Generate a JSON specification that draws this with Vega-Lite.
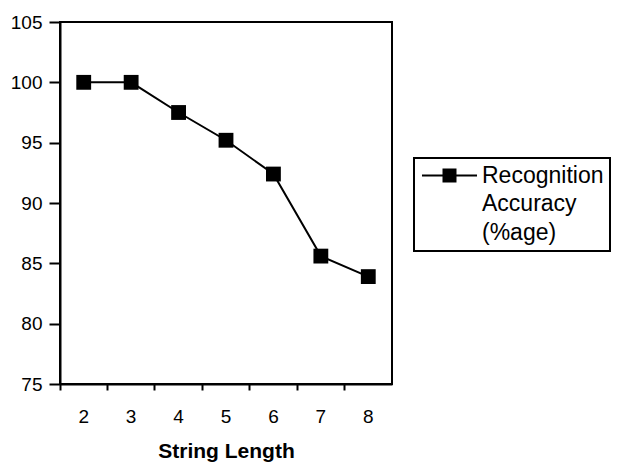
{
  "$schema": "https://vega.github.io/schema/vega-lite/v6.json",
  "autosize": {"type": "none"},
  "width": 332,
  "height": 362,
  "padding": {"left": 60, "top": 22, "right": 226, "bottom": 78},
  "background": "white",
  "config": {
    "font": "Liberation Sans",
    "view": {"stroke": "black", "strokeWidth": 2},
    "legend": {"strokeWidth": 2},
    "axis": {"grid": false, "domainColor": "black", "domainWidth": 2, "tickColor": "black", "tickWidth": 2, "labelColor": "black", "titleColor": "black", "labelFont": "Liberation Sans", "titleFont": "Liberation Sans"}
  },
  "data": {"values": [
    {"strlen": "2", "accuracy": 100, "series": "Recognition Accuracy (%age)"},
    {"strlen": "3", "accuracy": 100, "series": "Recognition Accuracy (%age)"},
    {"strlen": "4", "accuracy": 97.5, "series": "Recognition Accuracy (%age)"},
    {"strlen": "5", "accuracy": 95.2, "series": "Recognition Accuracy (%age)"},
    {"strlen": "6", "accuracy": 92.4, "series": "Recognition Accuracy (%age)"},
    {"strlen": "7", "accuracy": 85.6, "series": "Recognition Accuracy (%age)"},
    {"strlen": "8", "accuracy": 83.9, "series": "Recognition Accuracy (%age)"}
  ]},
  "encoding": {
    "x": {
      "field": "strlen", "type": "ordinal",
      "scale": {"type": "band", "paddingInner": 0, "paddingOuter": 0},
      "axis": {"title": "String Length", "titleFontSize": 21, "titleFontWeight": "bold", "titlePadding": 14, "labelFontSize": 19, "labelAngle": 0, "labelPadding": 17, "tickSize": 6, "bandPosition": 0, "labelOffset": 0}
    },
    "y": {
      "field": "accuracy", "type": "quantitative",
      "scale": {"domain": [75, 105], "nice": false, "zero": false},
      "axis": {"title": null, "values": [75, 80, 85, 90, 95, 100, 105], "labelFontSize": 19, "tickSize": 11, "labelPadding": 7}
    },
    "color": {
      "field": "series", "type": "nominal",
      "scale": {"range": ["black"]},
      "legend": {
        "title": null,
        "orient": "none",
        "legendX": 354,
        "legendY": 136,
        "strokeColor": "black",
        "padding": 6,
        "symbolType": "M-3.93,0H3.93M-0.857,-0.857H0.857V0.857H-0.857Z",
        "symbolSize": 196,
        "symbolOffset": 18,
        "symbolStrokeWidth": 2,
        "symbolFillColor": "black",
        "symbolStrokeColor": "black",
        "symbolOpacity": 1,
        "labelFontSize": 23,
        "labelColor": "black",
        "labelLimit": 0,
        "labelOffset": 21,
        "labelExpr": "['Recognition', 'Accuracy', '(%age)']",
        "encode": {"labels": {"update": {"lineHeight": {"value": 28.5}}}}
      }
    }
  },
  "layer": [
    {"mark": {"type": "line", "strokeWidth": 2}},
    {"mark": {"type": "point", "shape": "square", "filled": true, "size": 220, "opacity": 1}}
  ]
}
